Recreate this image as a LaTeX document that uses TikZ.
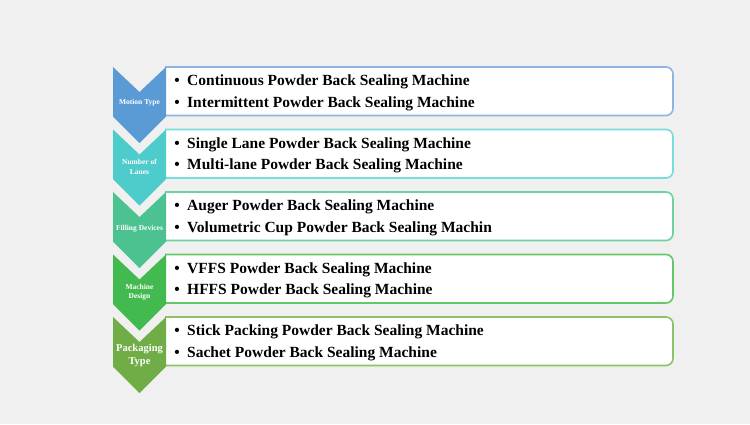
\documentclass[tikz,border=0pt]{standalone}
\usepackage{fontspec}
\setmainfont{Liberation Serif}
\begin{document}
\begin{tikzpicture}[x=1pt,y=-1pt,
  itemtext/.style={anchor=base west,inner sep=0pt,font=\fontsize{15.5}{18}\selectfont\bfseries,text=black},
  bul/.style={anchor=base,inner sep=0pt,font=\fontsize{15.5}{18}\selectfont\bfseries,text=black},
  chevlabel/.style={align=center,inner sep=0pt,text=white,font=\fontsize{7.5}{9.5}\selectfont\bfseries},
  bigchevlabel/.style={align=center,inner sep=0pt,text=white,font=\fontsize{10.5}{13}\selectfont\bfseries},
  itembox/.style={draw=#1,line width=1.6pt,fill=white,rounded corners=7pt}
]
\definecolor{bg}{RGB}{240,240,240}
\definecolor{cA}{RGB}{91,155,213}
\definecolor{cB}{RGB}{78,204,203}
\definecolor{cC}{RGB}{76,194,145}
\definecolor{cD}{RGB}{66,186,80}
\definecolor{cE}{RGB}{112,173,71}
\definecolor{bA}{RGB}{141,180,226}
\definecolor{bB}{RGB}{120,220,220}
\definecolor{bC}{RGB}{110,210,160}
\definecolor{bD}{RGB}{100,200,105}
\definecolor{bE}{RGB}{140,195,100}
\fill[bg] (0,0) rectangle (750,424);
\useasboundingbox (0,0) rectangle (750,424);

\foreach \y/\c/\b in {67/cA/bA,129.5/cB/bB,192/cC/bC,254.5/cD/bD,317/cE/bE}{
  \begin{scope}
    \clip (165,0) rectangle (750,424);
    \draw[itembox=\b] (145,\y) rectangle (673,\y+48.5);
  \end{scope}
  \fill[\c] (113,\y) -- (139.5,\y+25) -- (166,\y) -- (166,\y+49.5) -- (139.5,\y+76) -- (113,\y+49.5) -- cycle;
}

\node[chevlabel] (lA) at (139.5,103) {Motion Type};
\node[chevlabel] (lB) at (139.5,167) {Number of\\Lanes};
\node[chevlabel] (lC) at (139.5,229) {Filling Devices};
\node[chevlabel] (lD) at (139.5,292) {Machine\\Design};
\node[bigchevlabel] (lE) at (139.5,355) {Packaging\\Type};

\foreach \y/\ta/\tb [count=\i] in {
  67/{Continuous Powder Back Sealing Machine}/{Intermittent Powder Back Sealing Machine},
  129.5/{Single Lane Powder Back Sealing Machine}/{Multi-lane Powder Back Sealing Machine},
  192/{Auger Powder Back Sealing Machine}/{Volumetric Cup Powder Back Sealing Machin},
  254.5/{VFFS Powder Back Sealing Machine}/{HFFS Powder Back Sealing Machine},
  317/{Stick Packing Powder Back Sealing Machine}/{Sachet Powder Back Sealing Machine}}{
  \node[bul] (ba\i) at (177,\y+18.5) {•};
  \node[itemtext] (ta\i) at (187,\y+18.5) {\ta};
  \node[bul] (bb\i) at (177,\y+40) {•};
  \node[itemtext] (tb\i) at (187,\y+40) {\tb};
}
\end{tikzpicture}
\end{document}
